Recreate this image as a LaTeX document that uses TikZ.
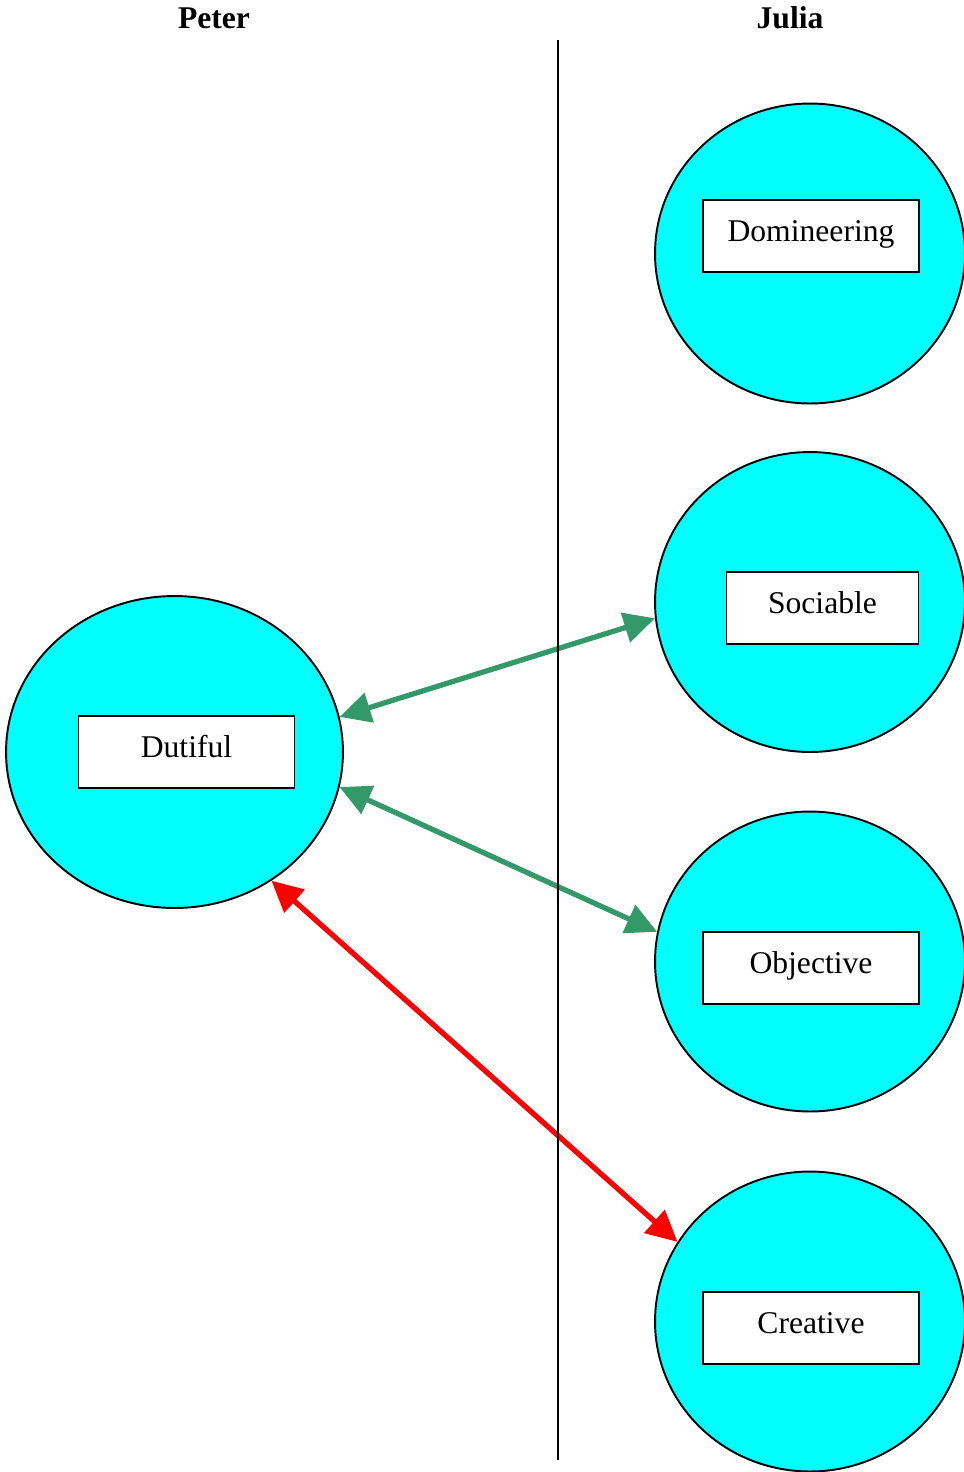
\documentclass[tikz,border=0pt]{standalone}
\usepackage{fontspec}
\setmainfont{Liberation Serif}
\usetikzlibrary{shapes.geometric,arrows.meta}
\definecolor{linkgreen}{RGB}{52,153,104}
\definecolor{traitcyan}{RGB}{0,255,255}

\begin{document}
\begin{tikzpicture}[x=0.02cm, y=-0.02cm, font=\fontsize{18}{21}\selectfont,
    trait/.style={ellipse, draw=black, line width=1.1pt, fill=traitcyan, inner sep=0pt},
    traitbox/.style={rectangle, draw=black, line width=1.1pt, fill=white, inner sep=0pt,
        minimum width=4.32cm, minimum height=1.44cm, text height=0.4cm, text depth=0.2cm},
    link/.style={line width=3pt, {Triangle[length=0.62cm,width=0.6cm]}-{Triangle[length=0.62cm,width=0.6cm]}}]
    \useasboundingbox (0,0) rectangle (964,1472);
    % names
    \node[anchor = base, font=\fontsize{18}{21}\selectfont\bfseries] (peter) at (214,28){Peter};
    \node[anchor = base, font=\fontsize{18}{21}\selectfont\bfseries] (julia) at (790,28){Julia};

    % traits
    \node[trait, minimum width=6.74cm, minimum height=6.24cm] (dutiful) at (174.5,752){};
    \node[trait, minimum width=6.2cm, minimum height=6cm] (domineering) at (810,253.5){};
    \node[trait, minimum width=6.2cm, minimum height=6cm] (sociable) at (810,602){};
    \node[trait, minimum width=6.2cm, minimum height=6cm] (objective) at (810,961.5){};
    \node[trait, minimum width=6.2cm, minimum height=6cm] (creative) at (810,1321.5){};

    \node[traitbox] (dutifulbox) at (186.5,752){Dutiful};
    \node[traitbox] (domineeringbox) at (811,236){Domineering};
    \node[traitbox, minimum width=3.84cm] (sociablebox) at (822.5,608){Sociable};
    \node[traitbox] (objectivebox) at (811,968){Objective};
    \node[traitbox] (creativebox) at (811,1328){Creative};

    % links
    \draw[link, linkgreen] (dutiful.12.1) -- (sociable.186.6);
    \draw[link, linkgreen] (dutiful.-12.1) -- (objective.169.3);
    \draw[link, red] (dutiful.-53.8) -- (creative.149.1);

    % divider
    \draw[line width=0.8pt] (558,40) -- (558,1460);
\end{tikzpicture}
\end{document}
